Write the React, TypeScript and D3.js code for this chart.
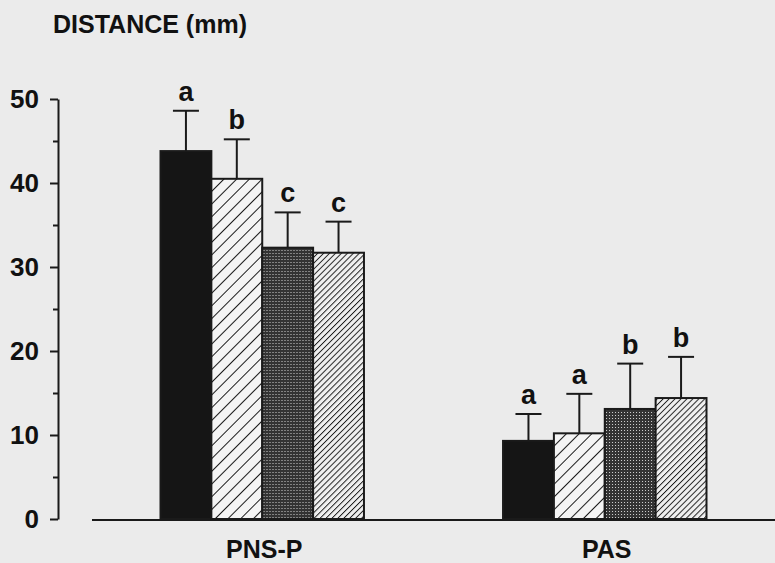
import React, { useEffect, useRef } from "react";
import * as d3 from "d3";

// chart values
const categories = ["PNS-P", "PAS"];
const groups = ["g1", "g2", "g3", "g4"];
const pnsMeans = [43.8, 40.5, 32.3, 31.7];
const pnsErrors = [4.8, 4.7, 4.2, 3.7];
const pnsLetters = ["a", "b", "c", "c"];
const pasMeans = [9.3, 10.2, 13.1, 14.4];
const pasErrors = [3.2, 4.7, 5.4, 4.9];
const pasLetters = ["a", "a", "b", "b"];
const majorTicks = [0, 10, 20, 30, 40, 50];
const minorTicks = [5, 15, 25, 35, 45];

const W = 775;
const H = 563;
const FONT = "'Liberation Sans', Arial, Helvetica, sans-serif";

const App = () => {
  const svgRef = useRef<SVGSVGElement | null>(null);

  useEffect(() => {
    const svg = d3.select(svgRef.current);
    svg.selectAll("*").remove();

    var y = d3.scaleLinear().domain([0, 50]).range([519, 99]);
    var x0 = d3.scaleBand().domain(categories)
      .range([92, 775]).paddingInner(0.406).paddingOuter(0.2).align(0.5);
    var x1 = d3.scaleBand().domain(groups).range([0, x0.bandwidth()]).padding(0);

    // background (scanned paper)
    svg.append("rect").attr("width", W).attr("height", H).attr("fill", "#ebebeb");

    // patterns for the four groups
    var defs = svg.append("defs");
    var p2 = defs.append("pattern").attr("id", "hatchWide")
      .attr("patternUnits", "userSpaceOnUse").attr("width", 9).attr("height", 9)
      .attr("patternTransform", "rotate(45)");
    p2.append("rect").attr("width", 9).attr("height", 9).attr("fill", "#f4f4f4");
    p2.append("line").attr("x1", 0).attr("x2", 0).attr("y1", 0).attr("y2", 9)
      .attr("stroke", "#1a1a1a").attr("stroke-width", 2);

    var p3 = defs.append("pattern").attr("id", "dots")
      .attr("patternUnits", "userSpaceOnUse").attr("width", 3).attr("height", 3);
    p3.append("rect").attr("width", 3).attr("height", 3).attr("fill", "#333");
    p3.append("rect").attr("x", 1).attr("y", 1).attr("width", 1).attr("height", 1).attr("fill", "#d0d0d0");

    var p4 = defs.append("pattern").attr("id", "hatchDense")
      .attr("patternUnits", "userSpaceOnUse").attr("width", 4.2).attr("height", 4.2)
      .attr("patternTransform", "rotate(45)");
    p4.append("rect").attr("width", 4.2).attr("height", 4.2).attr("fill", "#f0f0f0");
    p4.append("line").attr("x1", 0).attr("x2", 0).attr("y1", 0).attr("y2", 4.2)
      .attr("stroke", "#1a1a1a").attr("stroke-width", 1.9);

    var fills = ["#151515", "url(#hatchWide)", "url(#dots)", "url(#hatchDense)"];

    // y axis with major and minor ticks
    var axisG = svg.append("g").attr("transform", "translate(58,0)");
    axisG.call(d3.axisLeft(y).tickValues(majorTicks).tickSize(8).tickSizeOuter(0).tickPadding(11).tickFormat(d3.format("d")));
    axisG.append("g").call(d3.axisLeft(y).tickValues(minorTicks).tickSize(5).tickSizeOuter(0).tickFormat(() => ""));
    axisG.selectAll("path, line").attr("stroke", "#1a1a1a").attr("stroke-width", 2);
    axisG.selectAll("g > g > path").remove();
    axisG.selectAll("text")
      .attr("font-family", FONT).attr("font-weight", "bold")
      .attr("font-size", 26).attr("fill", "#111");

    // baseline
    svg.append("line").attr("x1", 92).attr("x2", W).attr("y1", y(0) + 1).attr("y2", y(0) + 1)
      .attr("stroke", "#1a1a1a").attr("stroke-width", 2);

    var table = [
      { cat: "PNS-P", means: pnsMeans, errs: pnsErrors, letters: pnsLetters },
      { cat: "PAS", means: pasMeans, errs: pasErrors, letters: pasLetters },
    ];

    table.forEach((row) => {
      var g = svg.append("g").attr("transform", "translate(" + x0(row.cat) + ",0)");
      var d = groups.map((k, i) => ({ k, i, v: row.means[i], e: row.errs[i], l: row.letters[i] }));

      // error bars
      g.selectAll(".err").data(d).enter().append("line")
        .attr("x1", (d) => x1(d.k)! + x1.bandwidth() / 2)
        .attr("x2", (d) => x1(d.k)! + x1.bandwidth() / 2)
        .attr("y1", (d) => y(d.v)).attr("y2", (d) => y(d.v + d.e))
        .attr("stroke", "#1a1a1a").attr("stroke-width", 2);
      g.selectAll(".cap").data(d).enter().append("line")
        .attr("x1", (d) => x1(d.k)! + x1.bandwidth() / 2 - 13)
        .attr("x2", (d) => x1(d.k)! + x1.bandwidth() / 2 + 13)
        .attr("y1", (d) => y(d.v + d.e)).attr("y2", (d) => y(d.v + d.e))
        .attr("stroke", "#1a1a1a").attr("stroke-width", 2);

      // bars
      g.selectAll(".bar").data(d).enter().append("rect")
        .attr("x", (d) => x1(d.k)!)
        .attr("y", (d) => y(d.v))
        .attr("width", x1.bandwidth())
        .attr("height", (d) => y(0) - y(d.v))
        .attr("fill", (d) => fills[d.i])
        .attr("stroke", "#1a1a1a").attr("stroke-width", 2);

      // significance letters
      g.selectAll(".letter").data(d).enter().append("text")
        .attr("x", (d) => x1(d.k)! + x1.bandwidth() / 2)
        .attr("y", (d) => y(d.v + d.e) - 10)
        .attr("text-anchor", "middle")
        .attr("font-family", FONT).attr("font-weight", "bold").attr("font-size", 27)
        .attr("fill", "#111")
        .text((d) => d.l);

      // category label
      svg.append("text")
        .attr("x", x0(row.cat)! + x0.bandwidth() / 2 + 2)
        .attr("y", 558)
        .attr("text-anchor", "middle")
        .attr("font-family", FONT).attr("font-weight", "bold").attr("font-size", 25)
        .attr("fill", "#111")
        .text(row.cat);
    });

    // y-axis title
    svg.append("text")
      .attr("x", 53).attr("y", 33)
      .attr("font-family", FONT).attr("font-weight", "bold").attr("font-size", 25)
      .attr("fill", "#111")
      .text("DISTANCE (mm)");
  }, []);

  return (
    <svg ref={svgRef} width={W} height={H}
      style={{ position: "absolute", left: 0, top: 0, display: "block" }} />
  );
};

export default App;
